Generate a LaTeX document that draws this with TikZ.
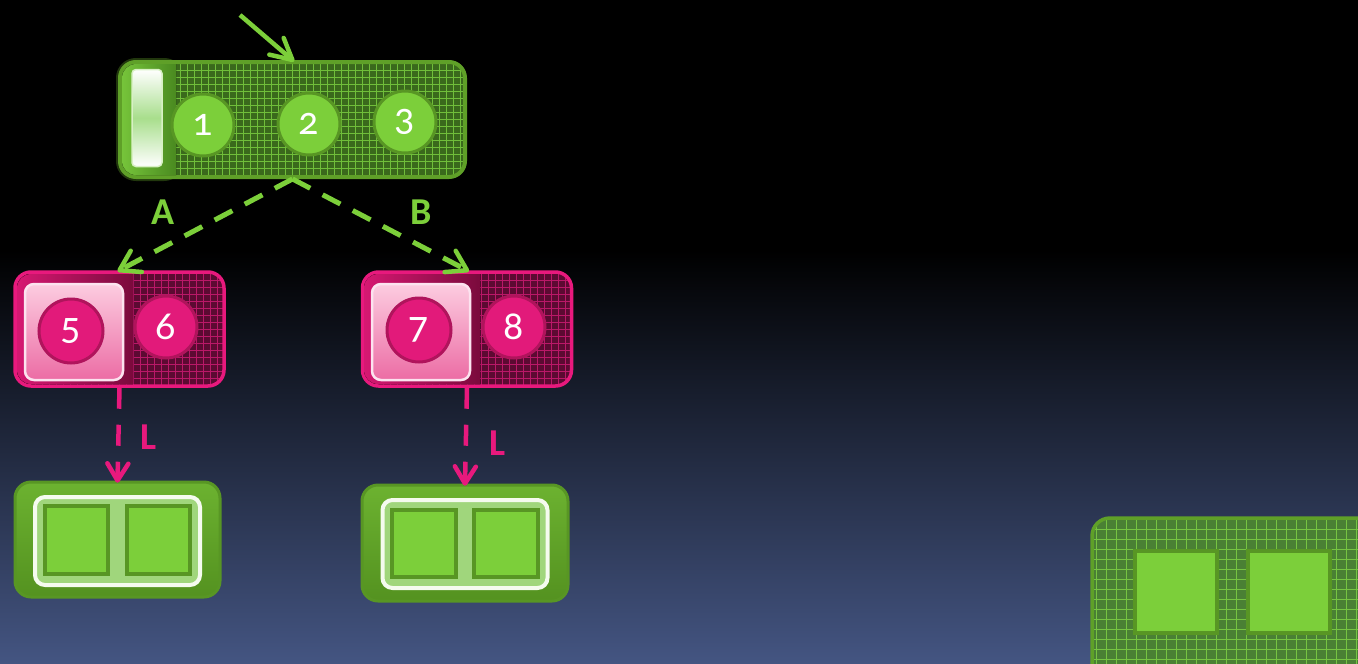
\documentclass[tikz,border=0pt]{standalone}
\usepackage{fontspec}
\setmainfont{Carlito}[Numbers=OldStyle]
\usepackage{xcolor}
\usetikzlibrary{arrows.meta,calc,decorations.markings}

\definecolor{bgblue}{RGB}{68,85,130}
\definecolor{gborder}{RGB}{95,160,40}
\definecolor{glight}{RGB}{124,207,58}
\definecolor{grim}{RGB}{88,150,36}
\definecolor{gbase}{RGB}{58,105,28}
\definecolor{gline}{RGB}{112,190,58}
\definecolor{gfarbase}{RGB}{74,128,52}
\definecolor{gfarline}{RGB}{118,196,66}
\definecolor{pborder}{RGB}{232,25,125}
\definecolor{pcircle}{RGB}{226,26,122}
\definecolor{prim}{RGB}{176,20,92}
\definecolor{pbase}{RGB}{92,10,50}
\definecolor{pline}{RGB}{186,24,104}

\begin{document}
\begin{tikzpicture}[x=1pt,y=-1pt]
\tikzset{
  gridfill/.style n args={3}{fill=#1,
    path picture={\draw[#2,line width=0.7pt,step=#3]
      (path picture bounding box.south west) grid (path picture bounding box.north east);}},
  vtip/.style n args={3}{postaction={decorate},decoration={markings,
    mark=at position 1 with {\draw[#1,solid,line width=4.5pt,line cap=round,line join=round]
      (-#2,-#3) -- (0pt,0pt) -- (-#2,#3);}}},
  greenbox/.style={draw=gborder,line width=4pt,rounded corners=16pt,
    gridfill={gbase}{gline}{7pt}},
  pinkbox/.style={draw=pborder,line width=3.5pt,rounded corners=16pt,
    gridfill={pbase}{pline}{7pt},minimum width=209pt,minimum height=114pt},
  gball/.style={circle,fill=glight,draw=grim,line width=3pt,minimum size=62pt,
    inner sep=0pt,text=white,font=\fontsize{40}{40}\selectfont},
  pball/.style={circle,fill=pcircle,draw=prim,line width=3pt,minimum size=62pt,
    inner sep=0pt,text=white,font=\fontsize{40}{40}\selectfont},
  gloss/.style={rounded corners=9pt,draw=white!88!pborder,line width=2.5pt,
    top color={rgb,255:red,252;green,204;blue,224},
    bottom color={rgb,255:red,236;green,108;blue,164},
    minimum width=98pt,minimum height=96pt},
  tray/.style={rounded corners=16pt,draw=grim,line width=3pt,
    top color={rgb,255:red,108;green,178;blue,48},
    bottom color={rgb,255:red,84;green,146;blue,32},
    minimum width=205pt,minimum height=115pt},
  trayin/.style={rounded corners=10pt,draw=white!92!glight,line width=4pt,
    fill={rgb,255:red,160;green,214;blue,124},
    minimum width=165pt,minimum height=88pt},
  slot/.style={fill=glight,draw=grim,line width=3.5pt,minimum width=63pt,minimum height=68pt},
  glabel/.style={text=glight,font=\bfseries\fontsize{38}{38}\selectfont},
  plabel/.style={text=pborder,font=\bfseries\fontsize{38}{38}\selectfont},
  gdash/.style={draw=glight,line width=5pt,dash pattern=on 20pt off 14pt,
    vtip={glight}{19pt}{12pt}},
  pdash/.style={draw=pborder,line width=4.5pt,dash pattern=on 21pt off 16pt,
    vtip={pborder}{17pt}{10.5pt}}
}

% background
\clip (0,0) rectangle (1358,664);
\fill[black] (0,0) rectangle (1358,250);
\shade[top color=black,bottom color=bgblue] (0,250) rectangle (1358,664);

% top row with three balls
\draw[gborder,opacity=0.35,line width=8pt,rounded corners=16pt] (120,62) rectangle (180,177);
\node[greenbox,minimum width=345pt,minimum height=115pt] (root) at (292.5,119.5) {};
\fill[left color={rgb,255:red,118;green,196;blue,58},right color={rgb,255:red,74;green,138;blue,32}]
  (176,64) -- (176,175) [rounded corners=14pt] -- (122,175) -- (122,64) [sharp corners] -- cycle;
\node[rounded corners=4pt,draw=white!70!glight,line width=1.5pt,
  top color=white,bottom color=white,middle color={rgb,255:red,168;green,222;blue,140},
  minimum width=30pt,minimum height=97pt] (pill) at (147,118) {};
\node[gball] (b1) at (203,125) {1};
\node[gball] (b2) at (309,124) {2};
\node[gball] (b3) at (405,122) {3};

% two pink nodes
\node[pinkbox] (pA) at (119.5,329) {};
\fill[left color={rgb,255:red,214;green,24;blue,114},right color={rgb,255:red,122;green,10;blue,60}]
  (133,274) -- (133,384) [rounded corners=14pt] -- (17,384) -- (17,274) [sharp corners] -- cycle;
\node[gloss] (sq5) at (74,332) {};
\node[pball,minimum size=64pt] (b5) at (71,331) {5};
\node[pball] (b6) at (166,327) {6};

\node[pinkbox] (pB) at (467,329) {};
\fill[left color={rgb,255:red,214;green,24;blue,114},right color={rgb,255:red,122;green,10;blue,60}]
  (480,274) -- (480,384) [rounded corners=14pt] -- (364,384) -- (364,274) [sharp corners] -- cycle;
\node[gloss] (sq7) at (421,332) {};
\node[pball,minimum size=64pt] (b7) at (419,330) {7};
\node[pball] (b8) at (514,327) {8};

% leaf trays
\node[tray] (gA) at (117.5,539.5) {};
\node[trayin] (gAin) at (117.5,541) {};
\node[slot] (sA1) at (76.5,540) {};
\node[slot] (sA2) at (158.5,540) {};

\node[tray,minimum width=206pt,minimum height=116pt] (gB) at (465,543) {};
\node[trayin] (gBin) at (465,544) {};
\node[slot,minimum width=64pt,minimum height=67pt] (sB1) at (424,543.5) {};
\node[slot,minimum width=64pt,minimum height=67pt] (sB2) at (506,543.5) {};

% spare tray, bottom right
\node[draw=gborder,line width=3.5pt,rounded corners=18pt,gridfill={gfarbase}{gfarline}{10pt},
  minimum width=308pt,minimum height=182pt] (gC) at (1246,609) {};
\node[slot,minimum width=82pt,minimum height=82pt] (sC1) at (1176,592) {};
\node[slot,minimum width=82pt,minimum height=82pt] (sC2) at (1289,592) {};

% connectors
\coordinate (entry) at (240,15);
\draw[glight,line width=4.5pt,vtip={glight}{21pt}{11pt}] (entry) -- (root.north);
\draw[gdash] (root.south) -- (pA.north);
\draw[gdash] (root.south) -- (pB.north);
\draw[pdash] (pA.south) -- (gA.north);
\draw[pdash] (pB.south) -- (gB.north);

\node[glabel] (labA) at (163,212) {A};
\node[glabel] (labB) at (421,212) {B};
\node[plabel] (labL1) at (149,437) {L};
\node[plabel] (labL2) at (498,443) {L};
\end{tikzpicture}
\end{document}
